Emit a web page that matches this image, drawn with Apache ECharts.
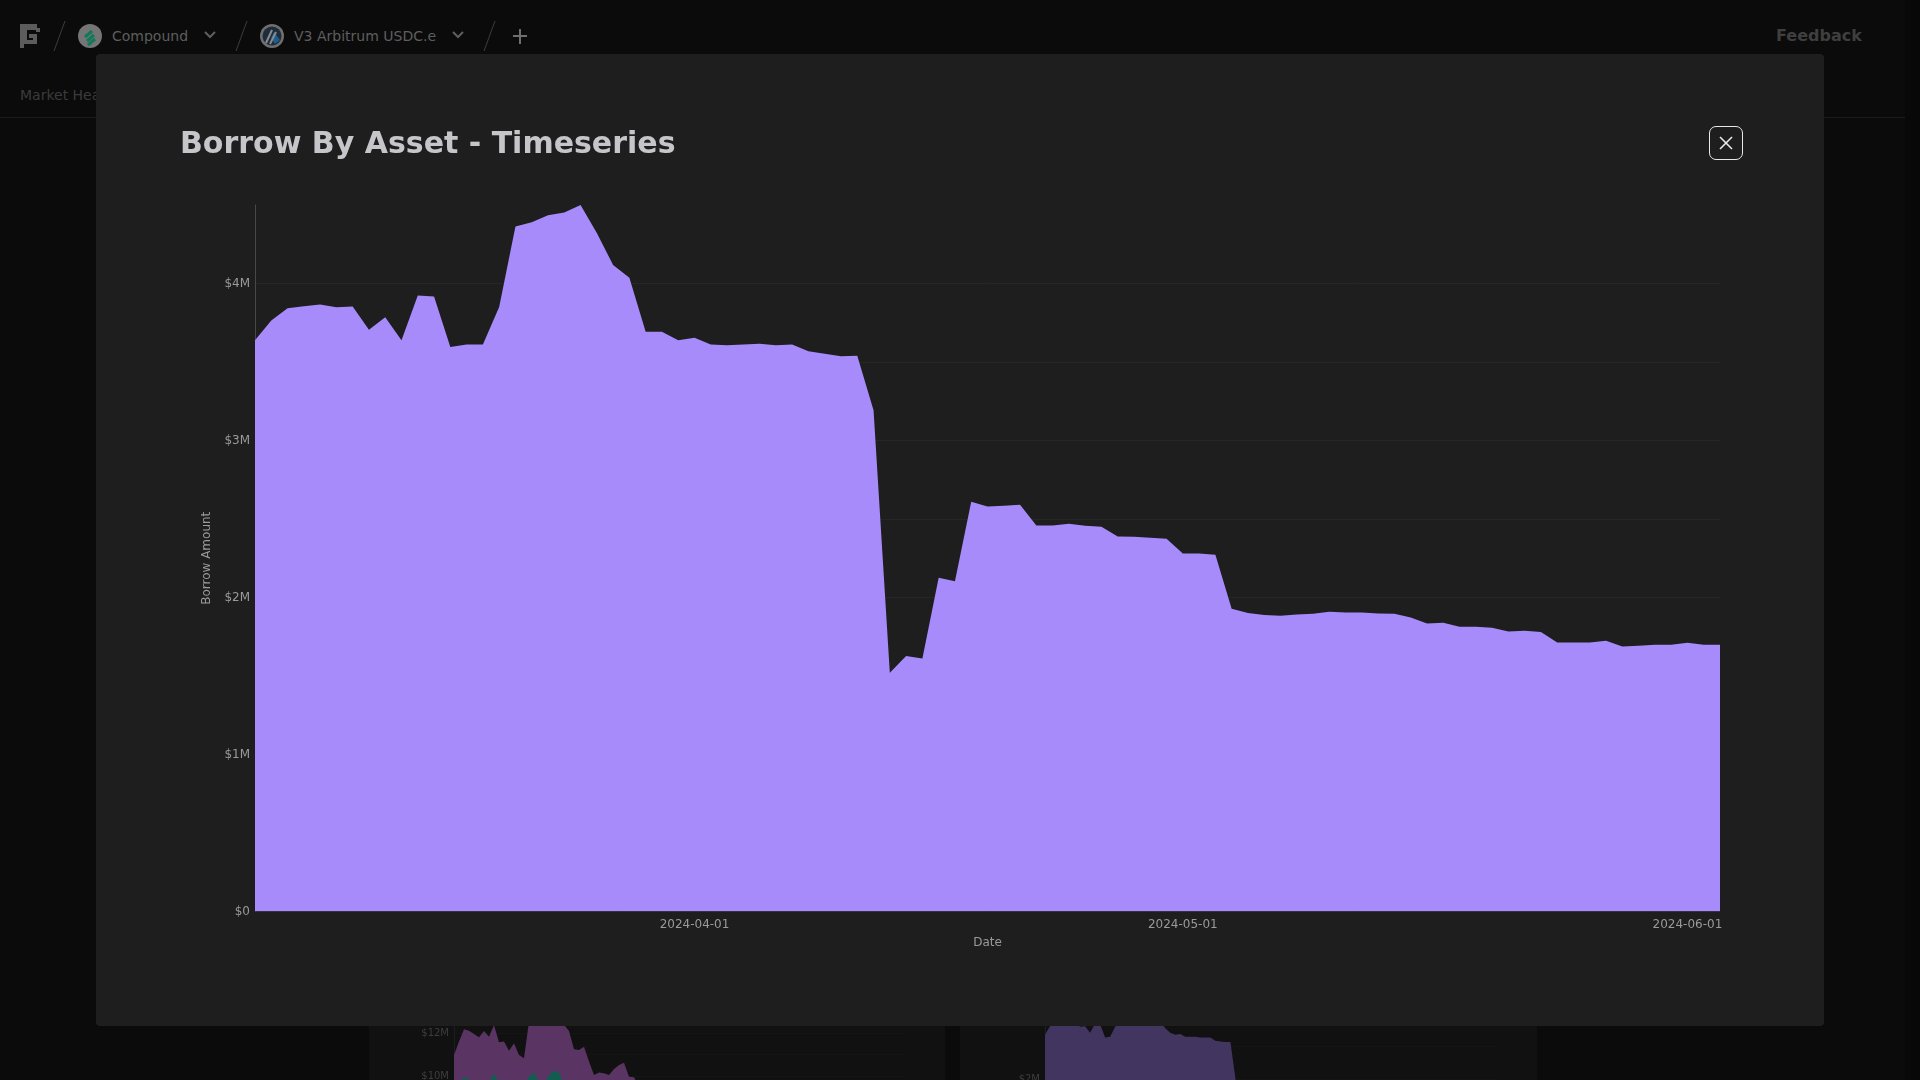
<!DOCTYPE html>
<html>
<head>
<meta charset="utf-8">
<title>Borrow By Asset - Timeseries</title>
<script src="https://cdn.jsdelivr.net/npm/echarts@6/dist/echarts.min.js"></script>
<style>
html,body{margin:0;padding:0;width:1920px;height:1080px;overflow:hidden;background:#0b0b0b;font-family:"DejaVu Sans",sans-serif}
.abs{position:absolute}
#scroll{left:1905px;top:0;width:15px;height:1080px;background:#080808}
#rule{left:0;top:117px;width:1905px;height:1px;background:#1b1b1b}
.crumb{color:#5e5e5e;font-size:14px;line-height:20px;top:26px;white-space:nowrap}
#tab{left:20px;top:85px;color:#3b3b3b;font-size:14px;line-height:20px}
#feedback{left:1776px;top:25px;color:#3f3f3f;font-size:16px;font-weight:bold;line-height:22px}
.panel{top:1000px;height:80px;background:#111111}
#modal{left:96px;top:54px;width:1728px;height:972px;background:#1e1e1e;border-radius:4px}
#close{left:1709px;top:126px;width:32px;height:32px;border:1px solid #e8e8e8;border-radius:7px}
#main{left:0;top:0;width:1920px;height:1080px}
#mini1{left:369px;top:980px;width:576px;height:320px}
#mini2{left:960px;top:980px;width:577px;height:320px}
</style>
</head>
<body>
<div class="abs panel" style="left:369px;width:576px"></div>
<div class="abs panel" style="left:960px;width:577px"></div>
<div id="mini1" class="abs"></div>
<div id="mini2" class="abs"></div>
<div id="scroll" class="abs"></div>
<div id="rule" class="abs"></div>
<svg class="abs" style="left:0;top:0" width="560" height="70">
  <g fill="#5c5c5c">
    <rect x="20" y="24" width="7" height="20"/><rect x="20" y="24" width="17" height="6"/>
    <rect x="36" y="28" width="4" height="4"/><rect x="29" y="34" width="6" height="4"/>
    <rect x="33" y="34" width="4" height="10"/><rect x="20" y="40" width="17" height="4"/>
    <rect x="20" y="44" width="4" height="4"/>
  </g>
  <g stroke="#3c3c3c" stroke-width="1" fill="none">
    <line x1="54" y1="51" x2="65" y2="21"/><line x1="236" y1="51" x2="247" y2="21"/><line x1="484" y1="51" x2="495" y2="21"/>
  </g>
  <circle cx="90" cy="36" r="12" fill="#757575"/>
  <g stroke="#0f7a58" stroke-width="3" fill="none"><line x1="85" y1="37" x2="92" y2="31"/><line x1="87" y1="41" x2="94" y2="35"/><line x1="88" y1="45" x2="95" y2="39"/></g>
  <path d="M205 32l5 5 5-5" stroke="#5e5e5e" stroke-width="2" fill="none"/>
  <circle cx="272" cy="36" r="12" fill="#6f6f6f"/><circle cx="272" cy="36" r="9.5" fill="#1f2c3b"/>
  <path d="M274 32l6 8-5 4-4-6z" fill="#1c5f8c"/>
  <g stroke="#8a8a8a" stroke-width="2"><line x1="266" y1="43" x2="272" y2="30"/><line x1="270" y1="44" x2="276" y2="32"/></g>
  <path d="M453 32l5 5 5-5" stroke="#5e5e5e" stroke-width="2" fill="none"/>
  <g stroke="#6e6e6e" stroke-width="2"><line x1="520" y1="29" x2="520" y2="44"/><line x1="513" y1="36" x2="527" y2="36"/></g>
</svg>
<div class="abs crumb" style="left:112px">Compound</div>
<div class="abs crumb" style="left:294px">V3 Arbitrum USDC.e</div>
<div id="tab" class="abs">Market Health</div>
<div id="feedback" class="abs">Feedback</div>
<div id="modal" class="abs"></div>
<div id="main" class="abs"></div>
<div id="close" class="abs">
  <svg width="32" height="32"><g stroke="#e8e8e8" stroke-width="1.6"><line x1="10" y1="10" x2="22" y2="22"/><line x1="22" y1="10" x2="10" y2="22"/></g></svg>
</div>
<script>
var titleText = 'Borrow By Asset - Timeseries';
var xAxisName = 'Date';
var yAxisName = 'Borrow Amount';
var xStart = '2024-03-05';
var xEnd = '2024-06-03';
var xTickLabels = ['2024-04-01', '2024-05-01', '2024-06-01'];
var borrowMillions = [
  3.638,3.764,3.842,3.855,3.866,3.849,3.853,3.706,3.785,3.638,
  3.923,3.917,3.596,3.611,3.611,3.851,4.363,4.390,4.435,4.452,
  4.500,4.322,4.118,4.036,3.693,3.693,3.638,3.655,3.611,3.606,
  3.611,3.617,3.606,3.611,3.568,3.553,3.536,3.540,3.192,1.520,
  1.628,1.611,2.126,2.104,2.610,2.580,2.584,2.591,2.459,2.459,
  2.470,2.457,2.451,2.389,2.387,2.381,2.374,2.281,2.281,2.272,
  1.928,1.902,1.888,1.883,1.892,1.896,1.909,1.905,1.905,1.898,
  1.896,1.873,1.834,1.839,1.813,1.813,1.807,1.783,1.788,1.781,
  1.713,1.713,1.713,1.724,1.688,1.692,1.699,1.699,1.711,1.699,1.699
];
// Charts behind the modal: only their lower parts show.
var miniLeftPurple = [
  10.98,11.60,12.17,12.11,11.95,11.80,12.09,11.83,12.37,11.57,
  11.60,11.18,11.52,10.98,10.82,12.53,13.0,13.1,13.1,13.2,
  13.2,13.0,12.38,12.09,11.24,11.21,11.36,10.67,10.05,10.16,
  10.13,10.05,10.33,10.51,10.62,9.97,9.94,9.5,9.3
];
var miniLeftTeal = [
  9.5,9.73,9.94,9.85,9.5,9.5,9.5,9.66,10.12,9.66,
  9.5,9.5,9.5,9.5,9.58,9.97,10.16,9.74,9.66,10.05,
  10.25,10.16,9.58,9.4,9.4,9.4,9.4,9.4,9.4,9.4,
  9.4,9.4,9.4,9.4,9.4,9.4,9.4,9.3,9.2
];
var miniRightPurple = [
  2.67,2.80,2.87,2.87,2.87,2.87,2.87,2.79,2.80,2.70,
  2.84,2.83,2.63,2.64,2.79,2.87,2.87,2.87,2.87,2.87,
  2.87,2.87,2.87,2.87,2.77,2.70,2.67,2.68,2.64,2.64,
  2.64,2.63,2.63,2.63,2.58,2.57,2.56,2.56,2.01,0.9
];

var parse = function (s) { return +echarts.time.parse(s); };
var DAY = 86400000;
var dayAt = function (i) { return parse(xStart) + i * DAY; };
var moneyM = function (v) { return '$' + v + 'M'; };

var main = echarts.init(document.getElementById('main'), null, {renderer: 'canvas'});
main.setOption({
  animation: false,
  backgroundColor: 'transparent',
  title: {
    text: titleText, left: 180, top: 130, padding: 0,
    textStyle: {fontFamily: 'DejaVu Sans', fontWeight: 'bold', fontSize: 30, color: '#c6c6ca'}
  },
  grid: {left: 255, right: 200, top: 205, bottom: 168.5},
  xAxis: {
    type: 'value', min: parse(xStart), max: parse(xEnd), z: 5,
    name: xAxisName, nameLocation: 'middle', nameGap: 25,
    nameTextStyle: {fontFamily: 'DejaVu Sans', fontSize: 12, color: '#9a9a9a'},
    axisLine: {show: true, lineStyle: {color: 'rgba(40,40,40,0.45)', width: 1}},
    axisTick: {show: false},
    splitLine: {show: false},
    axisLabel: {
      customValues: xTickLabels.map(parse),
      margin: 7, hideOverlap: false,
      fontFamily: 'DejaVu Sans', fontSize: 12, color: '#9a9a9a',
      formatter: function (v) { return echarts.time.format(v, '{yyyy}-{MM}-{dd}', false); }
    }
  },
  yAxis: {
    type: 'value', min: 0, max: 4.5, interval: 0.5,
    name: yAxisName, nameLocation: 'middle', nameGap: 42,
    nameTextStyle: {fontFamily: 'DejaVu Sans', fontSize: 12, color: '#9a9a9a'},
    axisLine: {show: true, lineStyle: {color: '#484848', width: 1}},
    axisTick: {show: false},
    splitLine: {show: true, showMinLine: false, showMaxLine: false, lineStyle: {color: '#262626', width: 1}},
    axisLabel: {
      margin: 5, padding: [4, 0, 0, 0], fontFamily: 'DejaVu Sans', fontSize: 12, color: '#9a9a9a',
      formatter: function (v) { return v % 1 === 0 ? moneyM(v).replace('$0M', '$0') : ''; }
    }
  },
  series: [{
    type: 'line', showSymbol: false, smooth: false,
    lineStyle: {width: 0}, areaStyle: {color: '#a78bfa', opacity: 1},
    data: borrowMillions.map(function (v, i) { return [dayAt(i), v]; })
  }]
});

function miniOption(yMax, yInterval, gridTop, gridH, labelFilter, lines) {
  return {
    animation: false,
    backgroundColor: 'transparent',
    grid: {left: 85, right: 41, top: gridTop, height: gridH},
    xAxis: {type: 'value', min: parse(xStart), max: parse(xEnd), axisLine: {show: false}, axisTick: {show: false}, axisLabel: {show: false}, splitLine: {show: false}},
    yAxis: {
      type: 'value', min: 0, max: yMax, interval: yInterval,
      axisLine: {show: true, lineStyle: {color: '#1d1d1d'}}, axisTick: {show: false},
      splitLine: {show: true, lineStyle: {color: '#151515'}},
      axisLabel: {margin: 5, padding: [3, 0, 0, 0], fontFamily: 'DejaVu Sans', fontSize: 10, color: '#3d3d3d', formatter: labelFilter}
    },
    series: lines.map(function (l, k) {
      return {
        type: 'line', showSymbol: false, z: 2 + k, lineStyle: {width: 0},
        areaStyle: {color: l.color, opacity: 1},
        data: l.data.map(function (v, i) { return [dayAt(i), v]; })
      };
    })
  };
}
echarts.init(document.getElementById('mini1')).setOption(miniOption(14, 1, 10, 301,
  function (v) { return v % 2 === 0 ? moneyM(v) : ''; },
  [{color: '#5a3463', data: miniLeftPurple}, {color: '#135c50', data: miniLeftTeal}]));
echarts.init(document.getElementById('mini2')).setOption(miniOption(3.5, 0.5, 0, 231,
  function (v) { return v % 1 === 0 ? moneyM(v) : ''; },
  [{color: '#423660', data: miniRightPurple}]));
</script>
</body>
</html>
